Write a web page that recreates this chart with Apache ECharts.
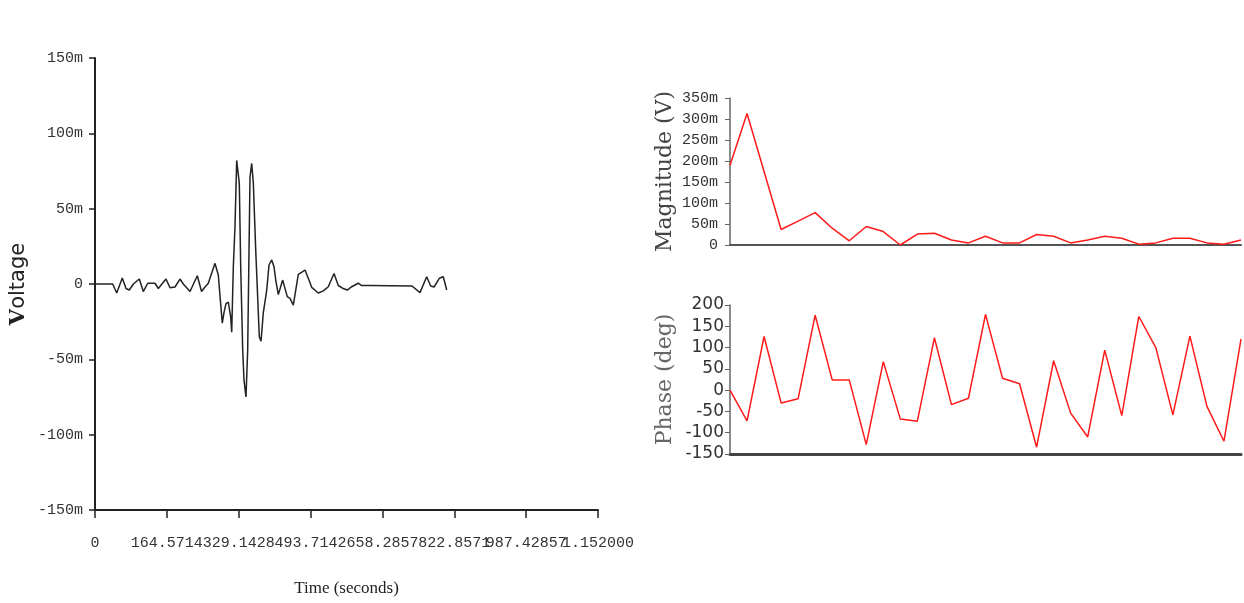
<!DOCTYPE html>
<html>
<head>
<meta charset="utf-8">
<title>Voltage / FFT</title>
<script src="https://cdn.jsdelivr.net/npm/echarts@6/dist/echarts.min.js"></script>
<style>
  html, body { margin: 0; padding: 0; background: #fff; }
  #chart { width: 1244px; height: 603px; }
</style>
</head>
<body>
<div id="chart"></div>
<script>
// time signal (seconds / mV)
const timeS = [0, 0.0405, 0.0497, 0.0625, 0.0710, 0.0786, 0.0877, 0.1015, 0.1106, 0.1207,
  0.1374, 0.1450, 0.1626, 0.1718, 0.1832, 0.1947, 0.2022, 0.2176, 0.2343, 0.2440,
  0.2519, 0.2595, 0.2748, 0.2824, 0.2863, 0.2915, 0.2954, 0.3000, 0.3053, 0.3108,
  0.3131, 0.3168, 0.3206, 0.3245, 0.3305, 0.3337, 0.3383, 0.3413, 0.3458, 0.3497,
  0.3550, 0.3589, 0.3626, 0.3681, 0.3763, 0.3802, 0.3855, 0.3933, 0.3985, 0.4047,
  0.4100, 0.4145, 0.4198, 0.4299, 0.4404, 0.4466, 0.4542, 0.4656, 0.4748, 0.4810,
  0.4885, 0.4963, 0.5114, 0.5229, 0.5343, 0.5474, 0.5572, 0.5687, 0.5778, 0.5879,
  0.6030, 0.6108, 0.6298, 0.7260, 0.7443, 0.7597, 0.7688, 0.7764, 0.7886, 0.7977, 0.8055]
const voltageMv = [0, 0, -6, 4, -3, -4, 0, 3.3, -5, 0.5,
  0.5, -3, 3.3, -2.5, -2, 3.3, 0, -5, 5.5, -5,
  -2, 0.5, 13.7, 6, -8, -26, -19, -13, -12, -22,
  -32, 11.5, 38, 82, 67, 11.5, -44, -64, -75, -44,
  71, 80, 67, 22.5, -35, -38, -19, -4, 12.6, 16,
  11.5, 1.5, -7, 2.6, -8.4, -9.5, -14, 6.4, 8, 9.3,
  3.8, -2.2, -6, -4.6, -1.8, 7, -1, -3, -4, -1.8,
  0.5, -1, -1, -1.3, -5.7, 4.8, -1.3, -2, 3.8, 4.8, -4]

const timeTicks = ['0', '164.5714', '329.1428', '493.7142', '658.2857', '822.8571', '987.42857', '1.152000']
const voltTicks = ['-150m', '-100m', '-50m', '0', '50m', '100m', '150m']

// spectrum
const freqBins = [0, 1, 2, 3, 4, 5, 6, 7, 8, 9, 10, 11, 12, 13, 14, 15, 16, 17, 18, 19, 20,
  21, 22, 23, 24, 25, 26, 27, 28, 29, 30]
const magnitudeMv = [190, 313, 175, 37, 57, 77, 40, 10, 44, 32, 0, 26, 28, 12, 5, 21, 5, 5, 25, 21,
  5, 12, 21, 16, 2, 5, 16, 16, 5, 2, 12]
const phaseDeg = [0, -72, 126, -30, -20, 176, 24, 24, -128, 67, -68, -73, 123, -34, -19, 178, 28, 15,
  -134, 69, -54, -110, 94, -60, 173, 100, -58, 127, -38, -120, 120]
const magTicks = ['0', '50m', '100m', '150m', '200m', '250m', '300m', '350m']

const timeMax = 1.152
const timeStep = timeMax / 7

const chart = echarts.init(document.getElementById('chart'))

const monoLabel = { fontFamily: 'Liberation Mono', fontSize: 15, color: '#333' }

const option = {
  animation: false,
  grid: [
    { left: 95, top: 58, width: 503, height: 452 },
    { left: 730, top: 98, width: 511, height: 147 },
    { left: 730, top: 305, width: 511, height: 149 }
  ],
  xAxis: [
    {
      gridIndex: 0,
      type: 'value',
      min: 0,
      // tiny pad so the last tick (7 * step) survives float rounding
      max: timeMax + 1e-7,
      interval: timeStep,
      name: 'Time (seconds)',
      nameLocation: 'middle',
      nameGap: 70,
      nameTextStyle: { fontFamily: 'Liberation Serif', fontSize: 17, color: '#222' },
      axisLine: { onZero: false, lineStyle: { color: '#222', width: 2 } },
      axisTick: { length: 8, lineStyle: { color: '#222', width: 1.5 } },
      axisLabel: Object.assign({}, monoLabel, {
        margin: 26,
        showMaxLabel: true,
        formatter: v => timeTicks[Math.min(7, Math.round(v / timeStep))]
      }),
      splitLine: { show: false }
    },
    {
      gridIndex: 1,
      type: 'category',
      data: freqBins,
      boundaryGap: false,
      axisLine: { lineStyle: { color: '#555', width: 2 } },
      axisTick: { show: false },
      axisLabel: { show: false }
    },
    {
      gridIndex: 2,
      type: 'category',
      data: freqBins,
      boundaryGap: false,
      axisLine: { onZero: false, lineStyle: { color: '#444', width: 3 } },
      axisTick: { show: false },
      axisLabel: { show: false }
    }
  ],
  yAxis: [
    {
      gridIndex: 0,
      type: 'value',
      min: -150,
      max: 150,
      interval: 50,
      name: '{v|V}{r|oltage}',
      nameLocation: 'middle',
      nameRotate: 90,
      nameGap: 66,
      nameTextStyle: {
        rich: {
          v: { fontFamily: 'DejaVu Serif', fontWeight: 'bold', fontSize: 21, color: '#222' },
          r: { fontFamily: 'DejaVu Sans', fontSize: 21, color: '#222' }
        }
      },
      axisLine: { show: true, onZero: false, lineStyle: { color: '#222', width: 2 } },
      axisTick: { show: true, length: 6, lineStyle: { color: '#222', width: 1.5 } },
      axisLabel: Object.assign({}, monoLabel, {
        margin: 12,
        formatter: v => voltTicks[Math.round((v + 150) / 50)]
      }),
      splitLine: { show: false }
    },
    {
      gridIndex: 1,
      type: 'value',
      min: 0,
      max: 350,
      interval: 50,
      name: 'Magnitude (V)',
      nameLocation: 'middle',
      nameRotate: 90,
      nameGap: 54,
      nameTextStyle: { fontFamily: 'DejaVu Serif', fontSize: 22, color: '#444' },
      axisLine: { show: true, lineStyle: { color: '#666', width: 1.5 } },
      axisTick: { show: true, length: 5, lineStyle: { color: '#666' } },
      axisLabel: Object.assign({}, monoLabel, {
        margin: 12,
        formatter: v => magTicks[Math.round(v / 50)]
      }),
      splitLine: { show: false }
    },
    {
      gridIndex: 2,
      type: 'value',
      min: -150,
      max: 200,
      interval: 50,
      name: 'Phase (deg)',
      nameLocation: 'middle',
      nameRotate: 90,
      nameGap: 54,
      nameTextStyle: { fontFamily: 'DejaVu Serif', fontSize: 22, color: '#666' },
      axisLine: { show: true, onZero: false, lineStyle: { color: '#666', width: 1.5 } },
      axisTick: { show: true, length: 5, lineStyle: { color: '#666' } },
      axisLabel: { fontFamily: 'DejaVu Sans', fontSize: 17, color: '#333', margin: 6 },
      splitLine: { show: false }
    }
  ],
  series: [
    {
      type: 'line',
      xAxisIndex: 0,
      yAxisIndex: 0,
      data: timeS.map((t, i) => [t, voltageMv[i]]),
      showSymbol: false,
      lineStyle: { color: '#222', width: 1.5 }
    },
    {
      type: 'line',
      xAxisIndex: 1,
      yAxisIndex: 1,
      data: magnitudeMv,
      showSymbol: false,
      lineStyle: { color: '#ff1a1a', width: 1.5 }
    },
    {
      type: 'line',
      xAxisIndex: 2,
      yAxisIndex: 2,
      data: phaseDeg,
      showSymbol: false,
      lineStyle: { color: '#ff1a1a', width: 1.5 }
    }
  ]
}

chart.setOption(option)
</script>
</body>
</html>
